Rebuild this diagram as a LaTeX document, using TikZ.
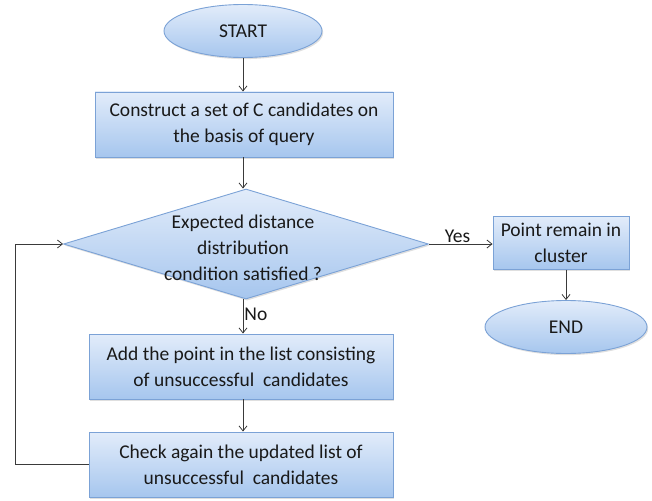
\documentclass[tikz,border=0pt]{standalone}
\usepackage{fontspec}
\setmainfont{Carlito}
\usetikzlibrary{shapes.geometric,arrows.meta,shadows}
\definecolor{boxtop}{HTML}{E2ECFA}
\definecolor{boxbot}{HTML}{A6C6EE}
\definecolor{boxline}{HTML}{7BA2D6}
\definecolor{wire}{HTML}{3A3A3A}
\tikzset{
  flow/.style={shading=axis, top color=boxtop, bottom color=boxbot,
    draw=boxline, line width=0.9pt, align=center, inner sep=0pt,
    font=\fontsize{19.5}{26}\selectfont, text=black!90,
    drop shadow={shadow xshift=1.2pt, shadow yshift=-1.6pt, opacity=0.25}},
  procbox/.style={flow, rectangle, minimum width=298pt, minimum height=65pt},
  smallbox/.style={flow, rectangle, minimum width=136pt, minimum height=53pt},
  term/.style={flow, ellipse, minimum width=158pt, minimum height=53pt},
  decision/.style={flow, diamond, aspect=3.3, minimum width=365pt, minimum height=110pt, inner sep=0pt},
  link/.style={draw=wire, line width=0.8pt, -{Straight Barb[length=5pt,width=8pt]}},
  lbl/.style={font=\fontsize{19.5}{22}\selectfont, text=black!90, inner sep=1pt}
}
\begin{document}
\begin{tikzpicture}[x=1pt,y=-1pt]
  \useasboundingbox (0,0) rectangle (652,500);
  \node[term] (start) at (243,31) {START};
  \node[procbox] (build) at (244,124.5) {Construct a set of C candidates on\\the basis of query};
  \node[decision] (test) at (246,244) {};
  \node[align=center, font=\fontsize{19.5}{26}\selectfont, text=black!90] (testtxt) at (243,248) {Expected distance\\distribution\\condition satisfied ?};
  \node[smallbox] (keep) at (561,243) {Point remain in\\cluster};
  \node[term, minimum width=162pt] (finish) at (566,327) {END};
  \node[procbox, minimum width=304pt] (add) at (241,366.5) {Add the point in the list consisting\\of unsuccessful\ \ candidates};
  \node[procbox, minimum width=304pt] (check) at (241,464.5) {Check again the updated list of\\unsuccessful\ \ candidates};
  \coordinate (corner1) at (15,464.5);
  \coordinate (corner2) at (15,244);
  \coordinate (spine) at (243,0);

  \draw[link] (spine |- start.south) -- (spine |- build.north);
  \draw[link] (spine |- build.south) -- (spine |- test.north);
  \draw[link] (spine |- test.south) -- node[lbl, anchor=west, pos=0.45] {No} (spine |- add.north);
  \draw[link] (spine |- add.south) -- (spine |- check.north);
  \draw[link] (test.east) -- node[lbl, anchor=south, pos=0.45] {Yes} (keep.west |- test.east);
  \draw[link] (keep.south -| finish.north) -- (finish.north);
  \draw[link] (check.west) -- (corner1) -- (corner2) -- (test.west);
\end{tikzpicture}
\end{document}
